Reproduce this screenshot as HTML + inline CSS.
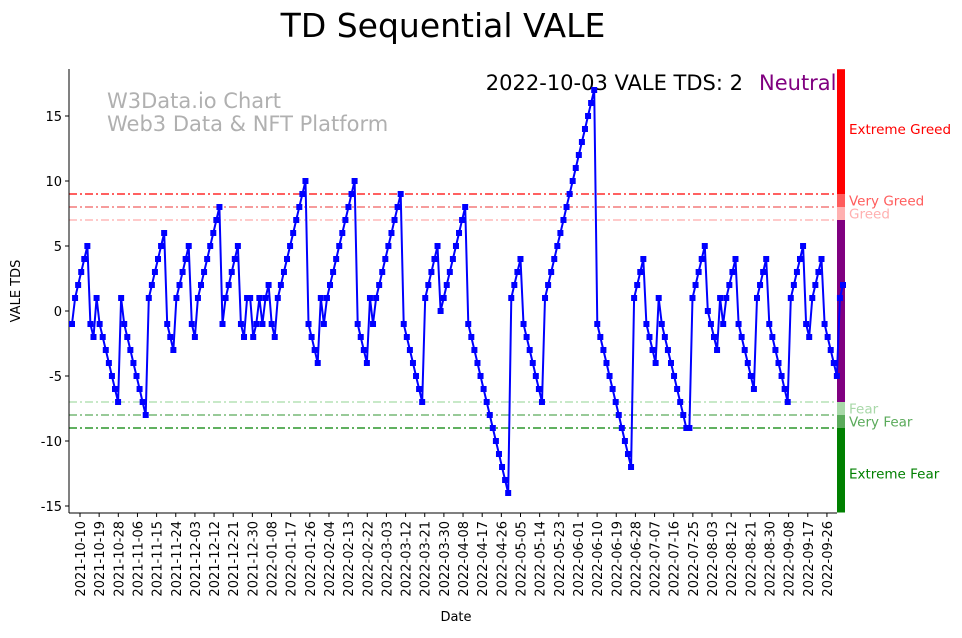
<!DOCTYPE html>
<html><head><meta charset="utf-8">
<style>
body{margin:0;background:#fff;}
svg text{font-family:"DejaVu Sans","Liberation Sans",sans-serif;}
</style></head>
<body>
<svg id="chart" width="962" height="633" xmlns="http://www.w3.org/2000/svg">
<rect width="962" height="633" fill="#fff"/>
<text x="443" y="37" font-size="33" text-anchor="middle">TD Sequential VALE</text>
<text x="107" y="108" font-size="21" fill="#b0b0b0">W3Data.io Chart</text>
<text x="107" y="131" font-size="21" fill="#b0b0b0">Web3 Data &amp; NFT Platform</text>
<text x="743" y="90" font-size="21" text-anchor="end">2022-10-03 VALE TDS: 2</text>
<text x="759" y="90" font-size="21" fill="#800080">Neutral</text>
<g id="zones"></g>
<g id="grid"></g>
<g id="axes"></g>
<g id="series"></g>
<text transform="translate(20,291) rotate(-90)" font-size="13" text-anchor="middle">VALE TDS</text>
<text x="456" y="621" font-size="13" text-anchor="middle">Date</text>
</svg>
<script>
const tdsValues=[-1,1,2,3,4,5,-1,-2,1,-1,-2,-3,-4,-5,-6,-7,1,-1,-2,-3,-4,-5,-6,-7,-8,1,2,3,4,5,6,-1,-2,-3,1,2,3,4,5,-1,-2,1,2,3,4,5,6,7,8,-1,1,2,3,4,5,
-1,-2,1,1,-2,-1,1,-1,1,2,-1,-2,1,2,3,4,5,6,7,8,9,10,-1,-2,-3,-4,1,-1,1,2,3,4,5,6,7,8,9,10,-1,-2,-3,-4,1,-1,1,2,3,4,5,6,7,8,9,-1,-2,-3,-4,-5,-6,-7,1,2,3,4,5,0,1,2,3,4,5,6,7,8,
-1,-2,-3,-4,-5,-6,-7,-8,-9,-10,-11,-12,-13,-14,1,2,3,4,-1,-2,-3,-4,-5,-6,-7,1,2,3,4,5,6,7,8,9,10,11,12,13,14,15,16,17,-1,-2,-3,-4,-5,-6,-7,-8,-9,-10,-11,-12,1,2,3,4,-1,-2,-3,-4,1,
-1,-2,-3,-4,-5,-6,-7,-8,-9,-9,1,2,3,4,5,0,-1,-2,-3,1,-1,1,2,3,4,-1,-2,-3,-4,-5,-6,1,2,3,4,-1,-2,-3,-4,-5,-6,-7,1,2,3,4,5,-1,-2,1,2,3,4,-1,-2,-3,-4,-5,1,2];
const yTicks=[15,10,5,0,-5,-10,-15];
const xTickStart="2021-10-10";
const xTickStepDays=9;
const xTickCount=40;
const levels=[9,8,7,-7,-8,-9];
const levelColors=["#ff0000","#f06060","#ffaaaa","#a8dca8","#5aaa5a","#008000"];
const zoneBounds=[18.6,9,8,7,-7,-8,-9,-15.5];
const zoneColors=["#ff0000","#ff5c5c","#ffb0b0","#800080","#a8d8a8","#5aaa5a","#008000"];
const zoneLabels=[["Extreme Greed",14,"#ff0000"],["Very Greed",8.5,"#ff5c5c"],["Greed",7.5,"#ffb0b0"],["Fear",-7.5,"#a8d8a8"],["Very Fear",-8.5,"#5aaa5a"],["Extreme Fear",-12.5,"#008000"]];

const NS="http://www.w3.org/2000/svg";
const L=69,R=837,T=69,B=513;
const y=v=>311-v*13;
const xi=i=>72+i*(843-72)/(tdsValues.length-1);
const t0=Date.UTC(2021,9,10);
const xd=d=>80+(d-t0)/86400000*2.128;
function mk(tag,attrs,parent){const e=document.createElementNS(NS,tag);for(const k in attrs)e.setAttribute(k,attrs[k]);parent.appendChild(e);return e;}
const zones=document.getElementById('zones'),grid=document.getElementById('grid'),axes=document.getElementById('axes'),series=document.getElementById('series');
for(let i=0;i<zoneColors.length;i++){
  const r=mk('rect',{x:R,y:y(zoneBounds[i]),width:8,height:y(zoneBounds[i+1])-y(zoneBounds[i]),fill:zoneColors[i]},zones);
  
  
}
zoneLabels.forEach(z=>{
  const t=mk('text',{x:849,y:y(z[1])+5,'font-size':13.5,fill:z[2]},zones);t.textContent=z[0];
  
  
});
levels.forEach((v,i)=>{
  const l=mk('line',{x1:L,x2:R,y1:y(v),y2:y(v),stroke:levelColors[i],'stroke-width':1.2,'stroke-dasharray':'8,3,2,3'},grid);
  
  
});
mk('line',{x1:L,x2:L,y1:T,y2:B,stroke:'#000','stroke-width':1},axes);
mk('line',{x1:L,x2:R,y1:B,y2:B,stroke:'#000','stroke-width':1},axes);
yTicks.forEach(v=>{
  mk('line',{x1:L-4,x2:L,y1:y(v),y2:y(v),stroke:'#000'},axes);
  const t=mk('text',{x:L-7,y:y(v)+5,'font-size':13,'text-anchor':'end'},axes);t.textContent=v;
  
  
});
for(let k=0;k<xTickCount;k++){
  const d=t0+k*xTickStepDays*86400000;const px=xd(d);
  mk('line',{x1:px,x2:px,y1:B,y2:B+4,stroke:'#000'},axes);
  const s=new Date(d).toISOString().slice(0,10);
  const t=mk('text',{transform:`translate(${px+5},${B+8}) rotate(-90)`,'font-size':13,'text-anchor':'end'},axes);t.textContent=s;
  
  
}
const pts=tdsValues.map((v,i)=>xi(i).toFixed(1)+','+y(v).toFixed(1)).join(' ');
const line=mk('polyline',{points:pts,fill:'none',stroke:'#0000ff','stroke-width':2},series);


tdsValues.forEach((v,i)=>{
  const m=mk('rect',{x:xi(i)-3,y:y(v)-3,width:6,height:6,fill:'#0000ff'},series);
  
  
});
</script>
</body></html>
